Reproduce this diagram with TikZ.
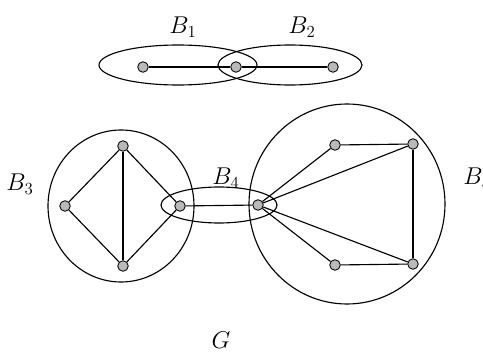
\documentclass[tikz,border=0pt]{standalone}
\usepackage{amsmath}
\usepackage{tikz}
\usetikzlibrary{shapes,positioning}

\begin{document}
\begin{tikzpicture}[
  x=0.025cm, y=-0.025cm,
  vertex/.style={circle, draw, fill=gray!55, inner sep=0pt, minimum size=7.5pt, line width=0.6pt},
  edge/.style={line width=0.8pt},
  block/.style={line width=0.8pt},
  blabel/.style={font=\LARGE}
]
\useasboundingbox (0,0) rectangle (483,355);
% top: B1 and B2
\node[vertex] (a1) at (143,67) {};
\node[vertex] (a2) at (236,67) {};
\node[vertex] (a3) at (333,67) {};
\draw[edge] (a1) -- (a2);
\draw[edge] (a2) -- (a3);
\draw[block] (178,65) ellipse (79 and 20);
\draw[block] (290,65) ellipse (72 and 20);
\node[blabel] (lb1) at (183,27) {$B_1$};
\node[blabel] (lb2) at (302,27) {$B_2$};
% B3
\node[vertex] (t) at (123,146) {};
\node[vertex] (l) at (65,206) {};
\node[vertex] (b) at (123,266) {};
\node[vertex] (r) at (180,206) {};
\draw[edge] (t) -- (l);
\draw[edge] (t) -- (r);
\draw[edge] (t) -- (b);
\draw[edge] (l) -- (b);
\draw[edge] (r) -- (b);
\draw[block] (121,206) ellipse (73 and 76);
\node[blabel] (lb3) at (20,184) {$B_3$};
% B4
\node[vertex] (h) at (258,205) {};
\draw[edge] (r) -- (h);
\draw[block] (219,205) ellipse (58 and 18);
\node[blabel] (lb4) at (226,178) {$B_4$};
% B5
\node[vertex] (p1) at (335,145) {};
\node[vertex] (p2) at (413,144) {};
\node[vertex] (p3) at (335,265) {};
\node[vertex] (p4) at (413,264) {};
\draw[edge] (h) -- (p1);
\draw[edge] (h) -- (p2);
\draw[edge] (h) -- (p3);
\draw[edge] (h) -- (p4);
\draw[edge] (p1) -- (p2);
\draw[edge] (p2) -- (p4);
\draw[edge] (p3) -- (p4);
\draw[block] (347,204) ellipse (98 and 100);
\node[blabel] (lb5) at (477,178) {$B_5$};
% graph name
\node[blabel] (g) at (221,340) {$G$};
\end{tikzpicture}
\end{document}
